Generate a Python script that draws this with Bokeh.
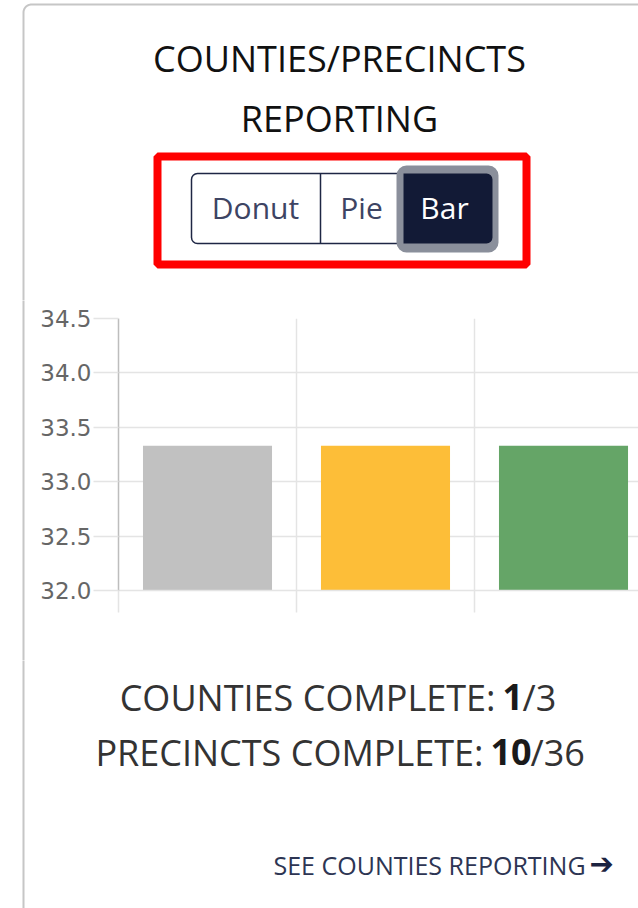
import numpy as np
from bokeh.plotting import figure
from bokeh.layouts import column, row
from bokeh.models import ColumnDataSource, Range1d, FixedTicker, Quad, Plot
from bokeh.core.properties import value
from bokeh.embed import file_html
from bokeh.resources import INLINE

# ---- data ----
categories = ["Complete", "Partial", "Not Reporting"]
percent_values = [33.33, 33.33, 33.33]
bar_colors = ["#c1c1c1", "#fdbe38", "#65a567"]
y_ticks = [32.0, 32.5, 33.0, 33.5, 34.0, 34.5]
y_tick_labels = ["32.0", "32.5", "33.0", "33.5", "34.0", "34.5"]
chart_title = ["COUNTIES/PRECINCTS", "REPORTING"]
button_labels = ["Donut", "Pie", "Bar"]
counties_complete, counties_total = 1, 3
precincts_complete, precincts_total = 10, 36
link_text = "SEE COUNTIES REPORTING"

# ---- page geometry (pixels) ----
PAGE_W = 638
TOP_H = 300          # title + buttons
MID_H = 360          # chart
BOT_H = 908 - TOP_H - MID_H
STRIP_W = 30         # strip left of the chart holding the card border
CARD_X = 23          # card's left border
CARD_Y = 4           # card's top border
CARD_R = 8
CARD_COLOR = "#c6c6c6"
HAS_RADIUS = "border_radius" in Quad.properties()
HAS_FRAME_ALIGN = "frame_align" in Plot.properties()
BASE_SHIFT = 0.42    # alphabetic-baseline correction, in em


def canvas_fig(w, h, x0, y0):
    """A figure whose frame fills it, with y counted downward from the page top."""
    f = figure(width=w, height=h, output_backend="svg", toolbar_location=None,
               x_range=Range1d(x0, x0 + w), y_range=Range1d(y0 + h, y0),
               x_axis_type=None, y_axis_type=None,
               min_border_left=0, min_border_right=0,
               min_border_top=0, min_border_bottom=0)
    f.outline_line_color = None
    f.background_fill_color = "white"
    f.border_fill_color = "white"
    f.grid.visible = False
    if HAS_FRAME_ALIGN:
        f.frame_align = False
    return f


def box(f, l, r, t, b, fill=None, line=None, lw=1.0, radius=0):
    kw = dict(left=[l], right=[r], top=[t], bottom=[b],
              fill_color=fill, line_color=line, line_width=lw)
    if HAS_RADIUS and radius:
        kw["border_radius"] = radius
    f.quad(**kw)


def txt(f, x, y, s, size, color, align="center", font="Open Sans", style="normal"):
    f.text(x=[x], y=[y - BASE_SHIFT * size], text=[s], text_font=value(font),
           text_font_size=value(f"{size}px"), text_color=color,
           text_align=align, text_baseline="alphabetic", text_font_style=style)


# ================= top: title + toggle buttons =================
top = canvas_fig(PAGE_W, TOP_H, 0, 0)
ang = np.linspace(np.pi, 1.5 * np.pi, 16)
cx, cy = CARD_X + CARD_R, CARD_Y + CARD_R
corner_x = list(cx + CARD_R * np.cos(ang))
corner_y = list(cy + CARD_R * np.sin(ang))
top.line([CARD_X] + corner_x + [PAGE_W + 5],
         [TOP_H + 5] + corner_y + [CARD_Y],
         line_color=CARD_COLOR, line_width=2)

txt(top, 339, 73, chart_title[0], 36, "#111111")
txt(top, 339, 133, chart_title[1], 36, "#111111")

NAVY_LINE = "#1e2644"
NAVY = "#121a36"
box(top, 191, 495, 173, 243, fill="white", line=NAVY_LINE, lw=1.5, radius=6)
top.segment(x0=[320], y0=[173], x1=[320], y1=[243], line_color=NAVY_LINE, line_width=1.5)
box(top, 396, 498, 165, 252, fill="#8a8f9b", radius=10)
box(top, 403, 492, 173, 243, fill=NAVY, radius=(0, 6, 6, 0))
box(top, 157, 526, 156, 264, line="#ff0000", lw=8)

txt(top, 255, 220, button_labels[0], 30, "#3d4463")
txt(top, 361, 220, button_labels[1], 30, "#3d4463")
txt(top, 444, 220, button_labels[2], 30, "#ffffff")

# ================= middle: bar chart =================
strip = canvas_fig(STRIP_W, MID_H, 0, TOP_H)
strip.segment(x0=[CARD_X], y0=[TOP_H - 5], x1=[CARD_X], y1=[TOP_H + MID_H + 5],
              line_color=CARD_COLOR, line_width=2)

CH_W = PAGE_W - STRIP_W
FRAME_L = 118 - STRIP_W
FRAME_T = 318 - TOP_H
FRAME_B = TOP_H + MID_H - 590
CAT_PX = 178.0
x_max = (CH_W - FRAME_L) / CAT_PX

src = ColumnDataSource(dict(
    x=[i + 0.5 for i in range(len(categories))],
    top=percent_values,
    color=bar_colors,
    name=categories,
))

p = figure(width=CH_W, height=MID_H, output_backend="svg", toolbar_location=None,
           x_range=Range1d(0, x_max), y_range=Range1d(y_ticks[0], y_ticks[-1]),
           min_border_left=FRAME_L, min_border_right=0,
           min_border_top=FRAME_T, min_border_bottom=FRAME_B)
p.outline_line_color = None
p.background_fill_color = "white"
p.border_fill_color = "white"
if HAS_FRAME_ALIGN:
    p.frame_align = False

GRID = "#e4e4e4"

p.yaxis.ticker = FixedTicker(ticks=y_ticks)
p.yaxis.major_label_overrides = {t: l for t, l in zip(y_ticks, y_tick_labels)}
p.yaxis.axis_line_color = "#bdbdbd"
p.yaxis.axis_line_width = 1.5
p.yaxis.major_tick_line_color = GRID
p.yaxis.major_tick_line_width = 1.5
p.yaxis.major_tick_out = 25
p.yaxis.major_tick_in = 0
p.yaxis.minor_tick_line_color = None
p.yaxis.major_label_standoff = 2
p.yaxis.major_label_text_font = "DejaVu Sans"
p.yaxis.major_label_text_font_size = "23px"
p.yaxis.major_label_text_color = "#666666"

x_grid_ticks = list(range(len(categories) + 1))
p.xaxis.ticker = FixedTicker(ticks=x_grid_ticks)
p.xaxis.major_label_overrides = {t: "" for t in x_grid_ticks}
p.xaxis.major_label_text_font_size = "10px"
p.xaxis.axis_line_color = GRID
p.xaxis.axis_line_width = 1.5
p.xaxis.major_tick_line_color = GRID
p.xaxis.major_tick_line_width = 1.5
p.xaxis.major_tick_out = 22
p.xaxis.major_tick_in = 0
p.xaxis.minor_tick_line_color = None

p.xgrid.ticker = FixedTicker(ticks=x_grid_ticks)
p.ygrid.ticker = FixedTicker(ticks=y_ticks)
for g in (p.xgrid, p.ygrid):
    g.grid_line_color = GRID
    g.grid_line_width = 1.5

p.vbar(x="x", top="top", bottom=y_ticks[0], width=0.725, color="color",
       line_color=None, source=src)

# ================= bottom: summary + link =================
Y0 = TOP_H + MID_H
bot = canvas_fig(PAGE_W, BOT_H, 0, Y0)
bot.segment(x0=[CARD_X], y0=[Y0 - 5], x1=[CARD_X], y1=[908 + 5],
            line_color=CARD_COLOR, line_width=2)

TXT = "#333333"
BOLD = "#1a1a1a"
SUM_SIZE = 36
txt(bot, 495, 712, "COUNTIES COMPLETE:", SUM_SIZE, TXT, align="right")
txt(bot, 502, 712, str(counties_complete), SUM_SIZE, BOLD, align="left", style="bold")
txt(bot, 522, 712, f"/{counties_total}", SUM_SIZE, TXT, align="left")

txt(bot, 483, 767, "PRECINCTS COMPLETE:", SUM_SIZE, TXT, align="right")
txt(bot, 490, 767, str(precincts_complete), SUM_SIZE, BOLD, align="left", style="bold")
txt(bot, 530, 767, f"/{precincts_total}", SUM_SIZE, TXT, align="left")

txt(bot, 273, 875, link_text, 25, "#2d3553", align="left")
txt(bot, 589, 876, "\u2794", 29, "#1c2340", align="left", font="DejaVu Sans", style="bold")

layout = column(top, row(strip, p), bot)
open("out.html", "w").write(file_html(layout, INLINE))
